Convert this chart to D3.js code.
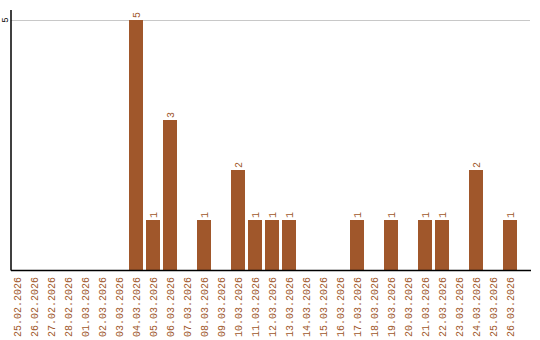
<html>
<head>
<style>
  body { margin: 0; background: #fff; }
  text { font-family: "Liberation Mono", "DejaVu Sans Mono", monospace; }
</style>
</head>
<body>
<svg width="540" height="340" class="chart"></svg>
<script src="https://d3js.org/d3.v7.min.js" charset="utf-8"></script>
<script>
    var dates = [
        "25.02.2026", "26.02.2026", "27.02.2026", "28.02.2026",
        "01.03.2026", "02.03.2026", "03.03.2026", "04.03.2026",
        "05.03.2026", "06.03.2026", "07.03.2026", "08.03.2026",
        "09.03.2026", "10.03.2026", "11.03.2026", "12.03.2026",
        "13.03.2026", "14.03.2026", "15.03.2026", "16.03.2026",
        "17.03.2026", "18.03.2026", "19.03.2026", "20.03.2026",
        "21.03.2026", "22.03.2026", "23.03.2026", "24.03.2026",
        "25.03.2026", "26.03.2026"
    ]
    var counts = [
        0, 0, 0, 0,
        0, 0, 0, 5,
        1, 3, 0, 1,
        0, 2, 1, 1,
        1, 0, 0, 0,
        1, 0, 1, 0,
        1, 1, 0, 2,
        0, 1
    ]
    var yTicks = [5]

    var brown = "#a0572b"
    var svg = d3.select(".chart")

    var x = d3.scaleBand().domain(dates).range([8.5, 518.5])
        .paddingInner(3 / 17).paddingOuter(3 / 34)
    var y = d3.scaleLinear().domain([0, 5]).range([270, 20])

    // grid
    svg.selectAll("line.grid").data(yTicks).enter().append("line")
        .attr("class", "grid")
        .attr("x1", 11).attr("x2", 530)
        .attr("y1", function(d) { return y(d) + 0.5 })
        .attr("y2", function(d) { return y(d) + 0.5 })
        .attr("stroke", "#c8c8c8").attr("stroke-width", 1)

    // bars
    svg.selectAll("rect.bar").data(counts).enter().append("rect")
        .attr("class", "bar")
        .attr("x", function(d, i) { return x(dates[i]) })
        .attr("width", x.bandwidth())
        .attr("y", function(d) { return y(d) })
        .attr("height", function(d) { return y(0) - y(d) })
        .attr("fill", brown)

    // value labels (skip zero)
    counts.forEach(function(d, i) {
        if (d <= 0) return
        var cx = x(dates[i]) + x.bandwidth() / 2
        svg.append("text")
            .attr("transform", "translate(" + cx + "," + (y(d) - 2) + ") rotate(-90)")
            .attr("dy", "0.35em")
            .attr("text-anchor", "start")
            .attr("font-size", 10)
            .attr("fill", brown)
            .text(d)
    })

    // x labels
    svg.selectAll("text.xl").data(dates).enter().append("text")
        .attr("class", "xl")
        .attr("transform", function(d) {
            return "translate(" + (x(d) + x.bandwidth() / 2) + ",277) rotate(-90)"
        })
        .attr("dy", "0.35em")
        .attr("text-anchor", "end")
        .attr("font-size", 10)
        .attr("fill", brown)
        .text(function(d) { return d })

    // y tick labels
    svg.selectAll("text.yl").data(yTicks).enter().append("text")
        .attr("class", "yl")
        .attr("transform", function(d) { return "translate(5," + y(d) + ") rotate(-90)" })
        .attr("dy", "0.35em")
        .attr("text-anchor", "middle")
        .attr("font-size", 9)
        .attr("fill", "#000")
        .text(function(d) { return d })

    // axes
    svg.append("line").attr("x1", 11).attr("x2", 11).attr("y1", 10).attr("y2", 270.5)
        .attr("stroke", "#000").attr("stroke-width", 1.5)
    svg.append("line").attr("x1", 11).attr("x2", 531).attr("y1", 270.5).attr("y2", 270.5)
        .attr("stroke", "#000").attr("stroke-width", 1.5)
</script>
</body>
</html>
